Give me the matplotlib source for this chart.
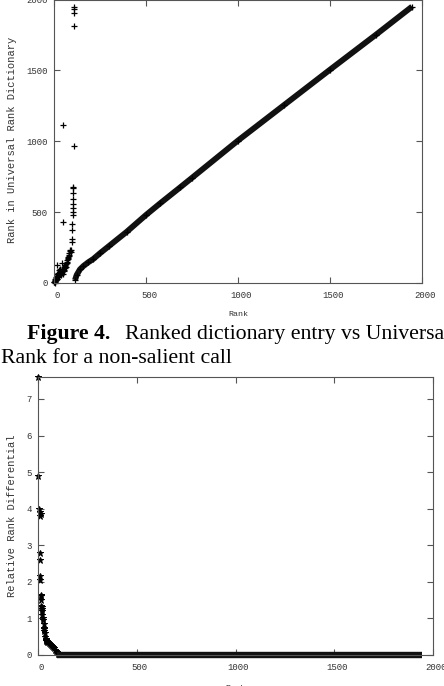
import matplotlib
matplotlib.use("Agg")
import matplotlib.pyplot as plt
import matplotlib.transforms as mtransforms

plt.rcParams['font.family'] = ['Liberation Mono', 'DejaVu Sans Mono']

# top chart: rank vs rank in universal rank dictionary
cluster_rank = [1, 2, 3, 4, 5, 6, 7, 8, 9, 10, 11, 12, 13, 14, 15, 16, 17, 18, 19, 20,
                22, 24, 25, 26, 28, 30, 32, 33, 35, 36, 38, 40, 42, 44, 45, 47, 48, 50,
                52, 54, 56, 58, 60, 62, 64, 66, 68, 70, 72, 74, 76, 78, 80, 82, 84, 86,
                88, 90, 92, 47, 47]
cluster_val = [5, 10, 3, 15, 8, 20, 12, 30, 18, 25, 40, 22, 35, 50, 127, 30, 45, 60, 28, 55,
               70, 40, 90, 65, 50, 80, 60, 100, 75, 55, 85, 70, 95, 80, 139, 90, 65, 100,
               85, 110, 95, 120, 105, 125, 115, 135, 150, 140, 160, 170, 180, 175, 190, 200,
               210, 225, 230, 218, 232, 432, 1113]

column_rank = [96, 97, 99, 100, 101, 102, 102, 103, 103, 104, 105, 105, 106, 107, 107, 108, 108]
column_val = [289, 310, 373, 415, 479, 500, 528, 556, 592, 634, 669, 678, 970, 1810, 1905, 1930, 1948]

diag_rank = [114, 123, 141, 160, 185, 214, 250, 300, 395, 500, 576, 685, 750, 1000,
             1250, 1500, 1750, 1946]
diag_val = [20, 56, 96, 120, 145, 170, 210, 262, 361, 480, 561, 674, 742, 1005,
            1255, 1505, 1752, 1950]

# bottom chart: relative rank differential
diff_rank = [0, 2, 7, 9, 11, 13, 10, 10, 11, 12, 14, 15, 16, 17, 18, 19, 20, 22, 24, 26,
             28, 30, 31, 32, 34, 36, 38, 40, 42, 44, 46, 50, 55, 60, 65, 70, 75, 80, 85,
             90, 95, 100]
diff_val = [7.6, 4.9, 4.0, 3.9, 3.8, 3.85, 2.8, 2.6, 2.15, 2.05, 1.65, 1.6, 1.5, 1.35,
            1.3, 1.25, 1.2, 1.1, 1.0, 0.95, 0.85, 0.75, 0.7, 0.65, 0.6, 0.5, 0.45, 0.4,
            0.38, 0.37, 0.36, 0.35, 0.33, 0.3, 0.28, 0.25, 0.22, 0.2, 0.15, 0.1, 0.07, 0.04]
zero_rank = [98, 1944]
zero_val = [0, 0]

xticks = [0, 500, 1000, 1500, 2000]
yticks_top = [0, 500, 1000, 1500, 2000]
yticks_bottom = [0, 1, 2, 3, 4, 5, 6, 7]

W, H = 444, 686
fig = plt.figure(figsize=(W / 100, H / 100), dpi=100)

ax1 = fig.add_axes([54 / W, 1 - 283 / H, 368 / W, 283.5 / H])
ax2 = fig.add_axes([38 / W, 1 - 655 / H, 395 / W, 278 / H])

# TOP PLOT
ax1.plot(cluster_rank, cluster_val, '+', color='black', ms=5, mew=0.9, clip_on=False)
ax1.plot(column_rank, column_val, '+', color='black', ms=5, mew=0.9, clip_on=False)
ax1.plot(diag_rank, diag_val, '-', color='#111111', lw=4.2, solid_capstyle='butt',
         clip_on=False)
ax1.plot(diag_rank, diag_val, '+', color='black', ms=5, mew=0.9, clip_on=False)
ax1.set_xlim(0, 2000)
ax1.set_ylim(0, 2000)
ax1.set_yticks(yticks_top)

# BOTTOM PLOT
ax2.plot(diff_rank, diff_val, '*', color='black', ms=5, mew=0.7, clip_on=False)
ax2.plot(zero_rank, zero_val, '-', color='#111111', lw=4.6, solid_capstyle='butt',
         clip_on=False)
ax2.set_xlim(0, 2000)
ax2.set_ylim(0, 7.6)
ax2.set_yticks(yticks_bottom)

shift = mtransforms.ScaledTranslation(3 / 100, 0, fig.dpi_scale_trans)
for ax in (ax1, ax2):
    ax.set_xticks(xticks)
    ax.tick_params(direction='in', top=True, right=True, length=4, width=0.8,
                   color='#555555', labelsize=6.5, labelcolor='#333333')
    ax.tick_params(axis='x', pad=5.5)
    ax.tick_params(axis='y', pad=4.5)
    for lab in ax.get_xticklabels():
        lab.set_transform(lab.get_transform() + shift)
    for s in ax.spines.values():
        s.set_color('#555555')
        s.set_linewidth(0.8)

# AXIS LABELS
fig.text(238 / W, 1 - 315 / H, 'Rank', ha='center', va='center', fontsize=6, color='#333333')
fig.text(235 / W, 1 - 689 / H, 'Rank', ha='center', va='center', fontsize=6, color='#333333')
fig.text(12 / W, 1 - 140 / H, 'Rank in Universal Rank Dictionary', rotation=90,
         ha='center', va='center', fontsize=7.5, color='#333333')
fig.text(12 / W, 1 - 516 / H, 'Relative Rank Differential', rotation=90,
         ha='center', va='center', fontsize=7.5, color='#333333')

# CAPTION
fig.text(27 / W, 1 - 339 / H, 'Figure 4.', ha='left', va='baseline', fontsize=15.7,
         fontweight='bold', family='Liberation Serif')
fig.text(125 / W, 1 - 339 / H, 'Ranked dictionary entry vs Universal', ha='left',
         va='baseline', fontsize=15.7, family='Liberation Serif')
fig.text(1 / W, 1 - 363 / H, 'Rank for a non-salient call', ha='left', va='baseline',
         fontsize=15.7, family='Liberation Serif')

fig.savefig('out.png', dpi=100)
plt.close(fig)
